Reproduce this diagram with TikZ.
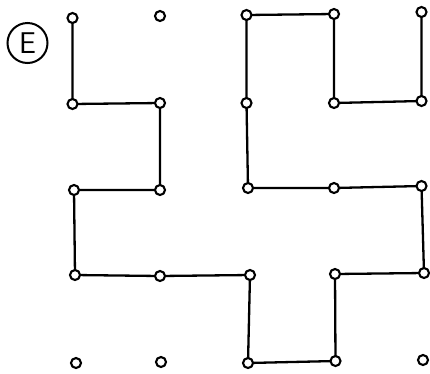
\documentclass[tikz,border=0pt]{standalone}
\begin{document}
\begin{tikzpicture}[x=1pt,y=-1pt,
  dot/.style={circle,draw=black,fill=white,line width=2.1pt,minimum size=10pt,inner sep=0pt},
  link/.style={line width=2.3pt,line join=round,line cap=round},
  ring/.style={circle,draw=black,line width=2pt,minimum size=40pt,inner sep=0pt,font=\fontsize{30}{30}\selectfont\sffamily}]
\useasboundingbox (0,0) rectangle (430,373);
% grid points
\coordinate (p00) at (72.5,18);  \coordinate (p10) at (160,16);
\coordinate (p20) at (246.5,15); \coordinate (p30) at (334,14);  \coordinate (p40) at (421.5,12);
\coordinate (p01) at (72.5,104); \coordinate (p11) at (160,103);
\coordinate (p21) at (246.5,103);\coordinate (p31) at (334,103); \coordinate (p41) at (421.5,101);
\coordinate (p02) at (74,190);   \coordinate (p12) at (160,190);
\coordinate (p22) at (248,188);  \coordinate (p32) at (334,188); \coordinate (p42) at (421.5,186);
\coordinate (p03) at (75,275);   \coordinate (p13) at (160,276);
\coordinate (p23) at (250,275);  \coordinate (p33) at (335,274); \coordinate (p43) at (424,273);
\coordinate (p04) at (76,363);   \coordinate (p14) at (161,362);
\coordinate (p24) at (248,363);  \coordinate (p34) at (335.5,361); \coordinate (p44) at (423,360);
\draw[link] (p00) -- (p01) -- (p11) -- (p12) -- (p02) -- (p03) -- (p13) -- (p23)
  -- (p24) -- (p34) -- (p33) -- (p43) -- (p42) -- (p32) -- (p22) -- (p21) -- (p20)
  -- (p30) -- (p31) -- (p41) -- (p40);
\foreach \i in {0,...,4}{\foreach \j in {0,...,4}{\node[dot] (n\i\j) at (p\i\j) {};}}
\node[ring] (lbl) at (27.5,43) {E};
\end{tikzpicture}
\end{document}
